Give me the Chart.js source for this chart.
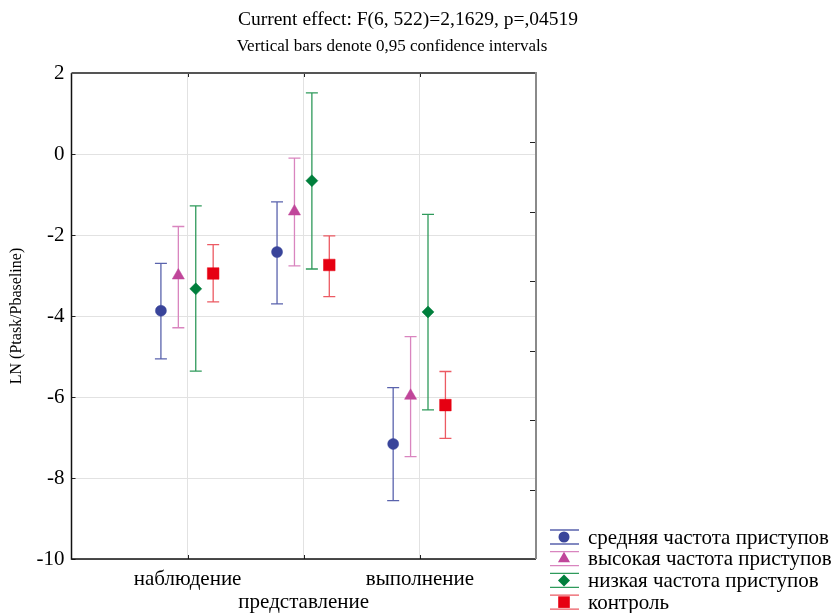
<!DOCTYPE html>
<html>
<head>
<meta charset="utf-8">
<script src="https://cdn.jsdelivr.net/npm/chart.js@4"></script>
<style>
    html, body { margin: 0; padding: 0; background: #fff; }
    #wrap { width: 840px; height: 613px; position: relative; }
</style>
</head>
<body>
<div id="wrap"><canvas id="chart" width="840" height="613"></canvas></div>
<script>
// Chart data
const categories = ['наблюдение', 'представление', 'выполнение'];
const seriesNames = ['средняя частота приступов', 'высокая частота приступов', 'низкая частота приступов', 'контроль'];

const meanMedium = [-3.87, -2.42, -7.16];
const upperMedium = [-2.70, -1.18, -5.77];
const lowerMedium = [-5.06, -3.70, -8.56];

const meanHigh = [-3.00, -1.42, -5.97];
const upperHigh = [-1.79, -0.10, -4.51];
const lowerHigh = [-4.29, -2.76, -7.47];

const meanLow = [-3.33, -0.66, -3.90];
const upperLow = [-1.28, 1.51, -1.49];
const lowerLow = [-5.36, -2.84, -6.32];

const meanControl = [-2.95, -2.74, -6.20];
const upperControl = [-2.24, -2.02, -5.37];
const lowerControl = [-3.65, -3.52, -7.02];

const yTicks = [2, 0, -2, -4, -6, -8, -10];

const serif = '"Liberation Serif", "DejaVu Serif", serif';

// series look: marker colour, bar colour, point style
const seriesStyle = [
    { color: '#39449a', bar: '#5a63ad', style: 'circle', radius: 5.5, offset: -0.23 },
    { color: '#c0469a', bar: '#d985bf', style: 'triangle', radius: 7, offset: -0.08 },
    { color: '#007f3c', bar: '#2f9a5b', style: 'rectRot', radius: 6, offset: 0.07 },
    { color: '#e60012', bar: '#ec5a63', style: 'rect', radius: 8.2, offset: 0.22 }
];

const means = [meanMedium, meanHigh, meanLow, meanControl];
const uppers = [upperMedium, upperHigh, upperLow, upperControl];
const lowers = [lowerMedium, lowerHigh, lowerLow, lowerControl];

const datasets = seriesNames.map((name, s) => ({
    label: name,
    data: means[s].map((v, i) => ({ x: i + 1 + seriesStyle[s].offset, y: v })),
    errHigh: uppers[s],
    errLow: lowers[s],
    barColor: seriesStyle[s].bar,
    showLine: false,
    pointStyle: seriesStyle[s].style,
    pointRadius: seriesStyle[s].radius,
    pointHoverRadius: seriesStyle[s].radius,
    backgroundColor: seriesStyle[s].color,
    borderColor: seriesStyle[s].color,
    borderWidth: 0.5
}));

// error bars, frame, inward ticks, titles and legend
const decorPlugin = {
    id: 'decor',
    beforeDatasetsDraw(chart) {
        const ctx = chart.ctx;
        const yScale = chart.scales.y;
        const area = chart.chartArea;
        const xs = chart.scales.x;

        // inward tick marks
        ctx.save();
        ctx.strokeStyle = '#222';
        ctx.lineWidth = 1;
        yTicks.forEach(v => {
            const py = Math.round(yScale.getPixelForValue(v)) + 0.5;
            ctx.beginPath();
            ctx.moveTo(area.left, py);
            ctx.lineTo(area.left + 4, py);
            ctx.stroke();
        });
        categories.forEach((c, i) => {
            const px = Math.round(xs.getPixelForValue(i + 1)) + 0.5;
            ctx.beginPath();
            ctx.moveTo(px, area.top);
            ctx.lineTo(px, area.top + 4);
            ctx.moveTo(px, area.bottom);
            ctx.lineTo(px, area.bottom - 4);
            ctx.stroke();
        });
        const y2 = chart.scales.y2;
        for (let v = 1; v < 7; v++) {
            const py = Math.round(y2.getPixelForValue(v)) + 0.5;
            ctx.beginPath();
            ctx.moveTo(area.right, py);
            ctx.lineTo(area.right - 6, py);
            ctx.stroke();
        }
        ctx.restore();

        // error bars
        chart.data.datasets.forEach((ds, di) => {
            const meta = chart.getDatasetMeta(di);
            ctx.save();
            ctx.strokeStyle = ds.barColor;
            ctx.lineWidth = 1.3;
            meta.data.forEach((pt, i) => {
                const x = pt.x;
                const top = yScale.getPixelForValue(ds.errHigh[i]);
                const bot = yScale.getPixelForValue(ds.errLow[i]);
                ctx.beginPath();
                ctx.moveTo(x, top);
                ctx.lineTo(x, bot);
                ctx.moveTo(x - 6, top);
                ctx.lineTo(x + 6, top);
                ctx.moveTo(x - 6, bot);
                ctx.lineTo(x + 6, bot);
                ctx.stroke();
            });
            ctx.restore();
        });
    },
    afterDraw(chart) {
        const ctx = chart.ctx;
        const area = chart.chartArea;
        ctx.save();

        // frame
        ctx.lineWidth = 1.5;
        ctx.strokeStyle = '#111';
        ctx.beginPath();
        ctx.moveTo(area.left, area.top);
        ctx.lineTo(area.left, area.bottom);
        ctx.lineTo(area.right, area.bottom);
        ctx.stroke();
        ctx.lineWidth = 2;
        ctx.strokeStyle = '#555';
        ctx.beginPath();
        ctx.moveTo(area.left, area.top);
        ctx.lineTo(area.right, area.top);
        ctx.stroke();
        ctx.strokeStyle = '#8a8a8a';
        ctx.beginPath();
        ctx.moveTo(area.right, area.top - 1);
        ctx.lineTo(area.right, area.bottom);
        ctx.stroke();

        // titles
        ctx.fillStyle = '#000';
        ctx.textAlign = 'center';
        ctx.textBaseline = 'alphabetic';
        ctx.font = '19.5px ' + serif;
        ctx.fillText('Current effect: F(6, 522)=2,1629, p=,04519', 408, 25);
        ctx.font = '17px ' + serif;
        ctx.fillText('Vertical bars denote 0,95 confidence intervals', 392, 51);

        // legend
        ctx.textAlign = 'left';
        ctx.textBaseline = 'middle';
        ctx.font = '21px ' + serif;
        chart.data.datasets.forEach((ds, i) => {
            const cy = 537 + i * 21.7;
            ctx.strokeStyle = ds.barColor;
            ctx.lineWidth = 1.3;
            ctx.beginPath();
            ctx.moveTo(550, cy - 7);
            ctx.lineTo(579, cy - 7);
            ctx.moveTo(550, cy + 7);
            ctx.lineTo(579, cy + 7);
            ctx.stroke();
            ctx.fillStyle = ds.backgroundColor;
            Chart.helpers.drawPoint(ctx, {
                pointStyle: ds.pointStyle,
                radius: ds.pointRadius,
                rotation: 0,
                borderWidth: 0
            }, 564, cy);
            ctx.fillStyle = '#000';
            ctx.fillText(ds.label, 588, cy + 1);
        });
        ctx.restore();
    }
};

const ctx = document.getElementById('chart').getContext('2d');
const chart = new Chart(ctx, {
    type: 'scatter',
    data: { datasets: datasets },
    options: {
        responsive: false,
        animation: false,
        layout: { padding: { top: 73, right: 304, left: 0, bottom: 0 } },
        plugins: {
            legend: { display: false },
            tooltip: { enabled: false },
            title: { display: false }
        },
        scales: {
            x: {
                type: 'linear',
                min: 0,
                max: 4,
                afterBuildTicks(scale) {
                    scale.ticks = [0, 1, 2, 3, 4].map(v => ({ value: v }));
                },
                afterFit(scale) { scale.height = 54; },
                grid: { color: '#e2e2e2', lineWidth: 1, drawTicks: false },
                border: { display: false },
                ticks: {
                    color: '#000',
                    font: { family: serif, size: 21, lineHeight: 1.1 },
                    padding: 9,
                    maxRotation: 0,
                    autoSkip: false,
                    callback(v) {
                        if (v === 1) return categories[0];
                        if (v === 2) return ['', categories[1]];
                        if (v === 3) return categories[2];
                        return '';
                    }
                }
            },
            y: {
                min: -10,
                max: 2,
                afterBuildTicks(scale) {
                    scale.ticks = yTicks.map(v => ({ value: v }));
                },
                afterFit(scale) { scale.width = 71.5; },
                grid: { color: '#e2e2e2', lineWidth: 1, drawTicks: false },
                border: { display: false },
                title: {
                    display: true,
                    text: 'LN (Ptask/Pbaseline)',
                    color: '#000',
                    font: { family: serif, size: 16 },
                    padding: { top: 7, bottom: 0 }
                },
                ticks: {
                    color: '#000',
                    font: { family: serif, size: 21 },
                    padding: 7
                }
            },
            y2: {
                position: 'right',
                min: 0,
                max: 7,
                display: true,
                afterFit(scale) { scale.width = 0; },
                grid: { display: false, drawTicks: false },
                border: { display: false },
                ticks: { display: false }
            }
        }
    },
    plugins: [decorPlugin]
});
</script>
</body>
</html>
